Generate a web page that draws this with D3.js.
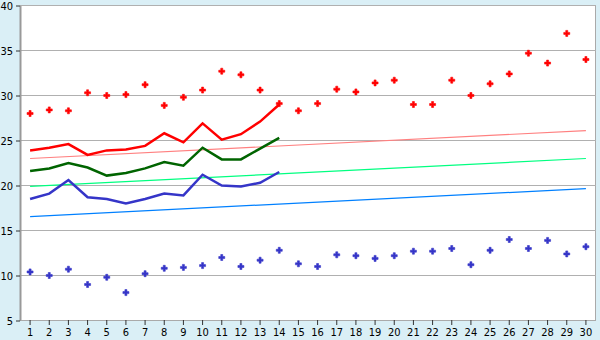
<!DOCTYPE html>
<html>
<head>
<meta charset="utf-8">
<script src="https://cdn.jsdelivr.net/npm/d3@7"></script>
<style>
  body { margin: 0; background: #daeff6; }
  svg { display: block; }
  text { font-family: "DejaVu Sans Condensed", "DejaVu Sans", sans-serif; font-size: 11px; fill: #000; }
</style>
</head>
<body>
<div id="chart"></div>
<script>
// days on the x axis
var days = d3.range(1, 31);
var yTicks = [5, 10, 15, 20, 25, 30, 35, 40];

// scatter points (highs / lows)
var highPts = [28.0, 28.4, 28.3, 30.3, 30.0, 30.1, 31.2, 28.9, 29.8, 30.6,
               32.7, 32.3, 30.6, 29.1, 28.3, 29.1, 30.7, 30.4, 31.4, 31.7,
               29.0, 29.0, 31.7, 30.0, 31.3, 32.4, 34.7, 33.6, 36.9, 34.0];
var lowPts = [10.4, 10.0, 10.7, 9.0, 9.8, 8.1, 10.2, 10.8, 10.9, 11.1,
              12.0, 11.0, 11.7, 12.8, 11.3, 11.0, 12.3, 12.2, 11.9, 12.2,
              12.7, 12.7, 13.0, 11.2, 12.8, 14.0, 13.0, 13.9, 12.4, 13.2];

// thick lines, days 1-14
var redLine = [23.9, 24.2, 24.6, 23.4, 23.9, 24.0, 24.4, 25.8, 24.8, 26.9, 25.1, 25.7, 27.1, 29.0];
var greenLine = [21.6, 21.9, 22.5, 22.0, 21.1, 21.4, 21.9, 22.6, 22.2, 24.2, 22.9, 22.9, 24.1, 25.3];
var blueLine = [18.5, 19.1, 20.6, 18.7, 18.5, 18.0, 18.5, 19.1, 18.9, 21.2, 20.0, 19.9, 20.3, 21.5];

// trend lines: value at day 1 and day 30
var redTrend = [23.0, 26.1];
var greenTrend = [19.9, 23.0];
var blueTrend = [16.55, 19.65];

var W = 600, H = 340;
var svg = d3.select('#chart').append('svg')
  .attr('width', W)
  .attr('height', H);

svg.append('rect').attr('width', W).attr('height', H).attr('fill', '#daeff6');

var x = d3.scaleBand().domain(days).range([20.5, 595.5]);
var y = d3.scaleLinear().domain([5, 40]).range([320.5, 5.5]);
var cx = function(d) { return x(d) + x.bandwidth() / 2; };

// plot area
svg.append('rect')
  .attr('x', 20.5).attr('y', 5.5)
  .attr('width', 575).attr('height', 315)
  .attr('fill', '#fff')
  .attr('stroke', '#aaa');

// gridlines
svg.append('g').selectAll('line')
  .data(yTicks)
  .enter().append('line')
  .attr('x1', 20.5).attr('x2', 595.5)
  .attr('y1', function(d) { return y(d); })
  .attr('y2', function(d) { return y(d); })
  .attr('stroke', '#b0b0b0')
  .attr('shape-rendering', 'crispEdges');

var yAxis = d3.axisLeft(y).tickValues(yTicks).tickSize(4).tickSizeOuter(0).tickPadding(3);
var yG = svg.append('g').attr('transform', 'translate(20,0)').call(yAxis);
yG.select('.domain').attr('stroke', '#999').attr('stroke-width', 2);
yG.selectAll('.tick line').attr('stroke', '#333');
yG.selectAll('text').style('font-size', '11px').attr('fill', '#000');

var xAxis = d3.axisBottom(x).tickSize(5).tickSizeOuter(0).tickPadding(3);
var xG = svg.append('g').attr('transform', 'translate(0,320)').call(xAxis);
xG.select('.domain').attr('stroke', '#aaa');
xG.selectAll('.tick line').attr('stroke', '#333');
xG.selectAll('text').style('font-size', '11px').attr('fill', '#000');

// trend lines
var trends = [[redTrend, '#ff8080'], [greenTrend, '#00ff80'], [blueTrend, '#0080ff']];
trends.forEach(function(t) {
  svg.append('line')
    .attr('x1', cx(days[0])).attr('x2', cx(days[days.length - 1]))
    .attr('y1', y(t[0][0])).attr('y2', y(t[0][1]))
    .attr('stroke', t[1])
    .attr('stroke-width', 1.2);
});

// thick lines
var line = d3.line()
  .x(function(d, i) { return cx(days[i]); })
  .y(function(d) { return y(d); });

[[redLine, '#ff0000'], [greenLine, '#006400'], [blueLine, '#3535c8']].forEach(function(s) {
  svg.append('path')
    .attr('d', line(s[0]))
    .attr('fill', 'none')
    .attr('stroke', s[1])
    .attr('stroke-width', 2.5);
});

// points
var sym = d3.symbol().type(d3.symbolCross).size(20);
[[highPts, '#ff0000'], [lowPts, '#3535c8']].forEach(function(s) {
  svg.append('g').selectAll('path')
    .data(s[0])
    .enter().append('path')
    .attr('d', sym)
    .attr('transform', function(d, i) { return 'translate(' + cx(days[i]) + ',' + y(d) + ')'; })
    .attr('fill', s[1])
    .attr('stroke', s[1])
    .attr('stroke-width', 0.6);
});
</script>
</body>
</html>
